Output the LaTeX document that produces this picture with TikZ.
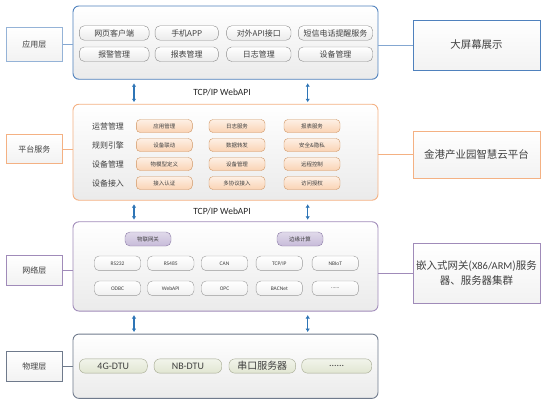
\documentclass[tikz,border=0pt]{standalone}
\usepackage{fontspec}
\setmainfont{Noto Sans CJK SC}
\newfontfamily\latfont{Carlito}
\usepackage{tikz}
\usetikzlibrary{arrows.meta,positioning,calc}
\definecolor{appB}{HTML}{4F81BD}
\definecolor{platB}{HTML}{F4B183}
\definecolor{netB}{HTML}{8064A2}
\definecolor{phyB}{HTML}{6F7A8C}
\definecolor{arrowB}{HTML}{2E75B6}
\definecolor{txt}{HTML}{404040}
\definecolor{peach}{HTML}{FAD3B4}
\definecolor{peachB}{HTML}{CF9563}
\definecolor{lilac}{HTML}{C7BBD9}
\definecolor{lilacB}{HTML}{8B7BA6}
\definecolor{sage}{HTML}{E1E6D2}
\definecolor{sageB}{HTML}{A3A78F}

\begin{document}
\begin{tikzpicture}[
  x=1bp,y=-1bp,
  font=\fontsize{8}{9.5}\selectfont,
  every node/.style={align=center,text=txt},
  layer/.style={draw=#1,rounded corners=6bp,line width=0.9bp,top color=white,
                bottom color=black!8,minimum width=305bp,inner sep=0pt},
  tag/.style={draw=#1,line width=0.9bp,top color=white,bottom color=black!5,
              minimum width=55.5bp,inner sep=0pt},
  side/.style={draw=#1,line width=0.9bp,top color=white,bottom color=black!5,
               minimum width=127bp,inner sep=2pt,font=\fontsize{10.5}{15}\selectfont},
  pill/.style={draw=black!45,rounded corners=5bp,top color=white,bottom color=black!8,
               minimum height=14.5bp,inner sep=0pt},
  ppill/.style={draw=peachB,rounded corners=4bp,top color=peach!35,bottom color=peach,
                minimum width=56bp,minimum height=13bp,inner sep=0pt,
                font=\fontsize{5.5}{6}\selectfont},
  npill/.style={draw=black!40,rounded corners=5bp,top color=white,bottom color=black!6,
                minimum width=46.5bp,minimum height=14.7bp,inner sep=0pt,
                font=\latfont\fontsize{5.5}{6}\selectfont},
  gpill/.style={draw=lilacB,rounded corners=5bp,top color=lilac!55,bottom color=lilac,
                minimum width=46bp,minimum height=14bp,inner sep=0pt,
                font=\fontsize{5.5}{6}\selectfont},
  fpill/.style={draw=sageB,rounded corners=6bp,top color=sage!45,bottom color=sage,
                minimum height=14.3bp,inner sep=0pt,font=\latfont\fontsize{10}{11}\selectfont},
  rowlbl/.style={font=\fontsize{8}{9.5}\selectfont},
  wire/.style={line width=0.9bp,#1},
  bus/.style={{Latex[length=3.5bp,width=4.5bp]}-{Latex[length=3.5bp,width=4.5bp]},
              line width=1.5bp,arrowB,shorten <=3.5bp,shorten >=1.5bp},
  api/.style={font=\latfont\fontsize{9.5}{10}\selectfont,text=black!85}
]
\useasboundingbox (0,0) rectangle (553,404);

\node[layer=appB,minimum height=73.3bp]  (app)  at (225.5,42.6)  {};
\node[layer=platB,minimum height=96bp]   (plat) at (225.5,152.2) {};
\node[layer=netB!75,minimum height=89.3bp] (net) at (225.5,266.4) {};
\node[layer=phyB,minimum height=64.3bp]  (phy)  at (225.5,366.2) {};

\node[tag=appB!60,minimum height=34bp]   (applbl)  at (34.3,44)  {应用层};
\node[tag=platB,minimum height=29bp]     (platlbl) at (34.3,149) {平台服务};
\node[tag=netB!75,minimum height=30bp]   (netlbl)  at (34.3,270) {网络层};
\node[tag=phyB,minimum height=30bp]      (phylbl)  at (34.3,366) {物理层};

\node[side=appB,minimum height=50bp]     (screen)  at (476.5,45)    {大屏幕展示};
\node[side=platB,minimum height=47bp]    (cloud)   at (476.5,154.5) {金港产业园智慧云平台};
\node[side=netB!75,minimum height=60bp]  (gateway) at (476.5,273)
  {嵌入式网关({\latfont X86/ARM})服务\\器、服务器集群};

\draw[wire=appB!70]  (applbl.east)  -- (applbl.east -| app.west);
\draw[wire=platB]    (platlbl.east) -- (platlbl.east -| plat.west);
\draw[wire=netB!75]  (netlbl.east)  -- (netlbl.east -| net.west);
\draw[wire=phyB]     (phylbl.east)  -- (phylbl.east -| phy.west);
\draw[wire=appB!70]  (app.east |- screen.west)  -- (screen.west);
\draw[wire=platB]    (plat.east |- cloud.west)  -- (cloud.west);
\draw[wire=netB!75]  (net.east |- gateway.west) -- (gateway.west);

\node[pill,minimum width=69.7bp] (web)   at (114.2,33)   {网页客户端};
\node[pill,minimum width=63.3bp] (mob)   at (186.7,33)   {手机APP};
\node[pill,minimum width=64.3bp] (extapi) at (258.8,33)  {对外API接口};
\node[pill,minimum width=74.4bp] (sms)   at (335.5,33)   {短信电话提醒服务};
\node[pill,minimum width=69.7bp] (alarm) at (114.2,54.2) {报警管理};
\node[pill,minimum width=63.3bp] (rep)   at (186.7,54.2) {报表管理};
\node[pill,minimum width=64.3bp] (logm)  at (258.8,54.2) {日志管理};
\node[pill,minimum width=74.4bp] (devm)  at (335.5,54.2) {设备管理};

\coordinate (ax1) at (134,0);
\coordinate (ax2) at (307.7,0);
\draw[bus] (app.south -| ax1) -- (plat.north -| ax1);
\draw[bus] (app.south -| ax2) -- (plat.north -| ax2);
\node[api] (tcp1) at (222,92) {TCP/IP WebAPI};

\node[rowlbl] (ops)  at (108,126) {运营管理};
\node[rowlbl] (rule) at (108,145) {规则引擎};
\node[rowlbl] (dmg)  at (108,164) {设备管理};
\node[rowlbl] (dacc) at (108,183) {设备接入};
\node[ppill] (appmg)  at (164.3,126) {应用管理};
\node[ppill] (logsv)  at (237,126)   {日志服务};
\node[ppill] (repsv)  at (312,126)   {报表服务};
\node[ppill] (link)   at (164.3,145) {设备联动};
\node[ppill] (fwd)    at (237,145)   {数据转发};
\node[ppill] (sec)    at (312,145)   {安全\&隐私};
\node[ppill] (model)  at (164.3,164) {物模型定义};
\node[ppill] (devmg)  at (237,164)   {设备管理};
\node[ppill] (remote) at (312,164)   {远程控制};
\node[ppill] (auth)   at (164.3,183) {接入认证};
\node[ppill] (multi)  at (237,183)   {多协议接入};
\node[ppill] (grant)  at (312,183)   {访问授权};

\draw[bus] (plat.south -| ax1) -- (net.north -| ax1);
\draw[bus] (plat.south -| ax2) -- (net.north -| ax2);
\node[api] (tcp2) at (222,211) {TCP/IP WebAPI};

\node[gpill] (iotgw) at (148,239)   {物联网关};
\node[gpill] (edge)  at (300,239)   {边缘计算};
\node[npill] (rs232) at (117.5,263.3) {RS232};
\node[npill] (rs485) at (170.7,263.3) {RS485};
\node[npill] (can)   at (224.5,263.3) {CAN};
\node[npill] (tcpip) at (279.3,263.3) {TCP/IP};
\node[npill] (nbiot) at (335.3,263.3) {NBIoT};
\node[npill] (odbc)  at (117.5,288.3) {ODBC};
\node[npill] (wapi)  at (170.7,288.3) {WebAPI};
\node[npill] (opc)   at (224.5,288.3) {OPC};
\node[npill] (bac)   at (279.3,288.3) {BACNet};
\node[npill] (nmore) at (335.3,288.3) {......};

\draw[bus] (net.south -| ax1) -- (phy.north -| ax1);
\draw[bus] (net.south -| ax2) -- (phy.north -| ax2);

\node[fpill,minimum width=68bp]   (dtu4g)  at (113.3,366) {4G-DTU};
\node[fpill,minimum width=67.7bp] (dtunb)  at (187.9,366) {NB-DTU};
\node[fpill,minimum width=66.7bp,font=\fontsize{10}{11}\selectfont] (serial) at (262.3,366) {串口服务器};
\node[fpill,minimum width=70bp]   (fmore)  at (336.7,366) {......};
\end{tikzpicture}
\end{document}
